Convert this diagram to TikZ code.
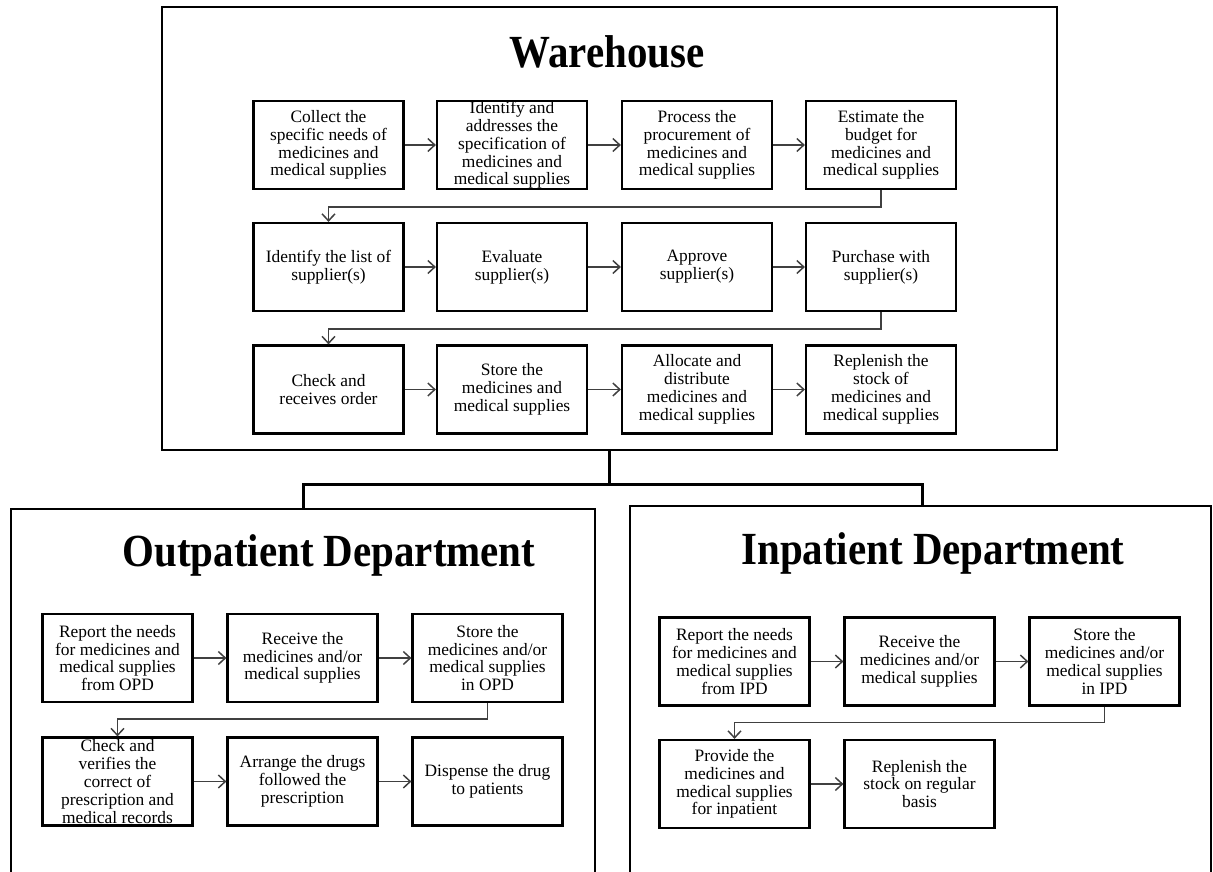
\documentclass[tikz,border=0pt]{standalone}
\usepackage{fontspec}
\setmainfont{Liberation Serif}
\newfontfamily\titlefont{Liberation Serif}[FakeStretch=0.89]
\usetikzlibrary{arrows.meta}
\begin{document}
\begin{tikzpicture}[x=1pt,y=-1pt,
  stepbox/.style={draw=black,line width=2.2pt,minimum width=150pt,minimum height=88pt,
    inner sep=0pt,align=center,font=\fontsize{17.4pt}{17.8pt}\selectfont},
  flow/.style={draw=black!75,line width=1.5pt,-{Straight Barb[length=7pt,width=13pt,line width=1.5pt]}},
  frame/.style={draw=black,line width=2pt},
  trunk/.style={draw=black,line width=3pt},
  heading/.style={anchor=base,inner sep=0pt,font=\titlefont\bfseries\fontsize{46pt}{46pt}\selectfont}]
\useasboundingbox (0,0) rectangle (1213,872);

% ---------------- Warehouse ----------------
\node[frame,minimum width=895pt,minimum height=443pt,inner sep=0pt] (wh) at (609.5,228.5) {};
\node[heading] (whtitle) at (607,68) {Warehouse};

\node[stepbox] (w1) at (328.5,145) {Collect the\\specific needs of\\medicines and\\medical supplies};
\node[stepbox] (w2) at (512,145) {Identify and\\addresses the\\specification of\\medicines and\\medical supplies};
\node[stepbox] (w3) at (697,145) {Process the\\procurement of\\medicines and\\medical supplies};
\node[stepbox] (w4) at (881,145) {Estimate the\\budget for\\medicines and\\medical supplies};

\node[stepbox] (w5) at (328.5,267) {Identify the list of\\supplier(s)};
\node[stepbox] (w6) at (512,267) {Evaluate\\supplier(s)};
\node[stepbox] (w7) at (697,267) {Approve\\supplier(s)};
\node[stepbox] (w8) at (881,267) {Purchase with\\supplier(s)};

\node[stepbox] (w9) at (328.5,389.5) {Check and\\receives order};
\node[stepbox] (w10) at (512,389.5) {Store the\\medicines and\\medical supplies};
\node[stepbox] (w11) at (697,389.5) {Allocate and\\distribute\\medicines and\\medical supplies};
\node[stepbox] (w12) at (881,389.5) {Replenish the\\stock of\\medicines and\\medical supplies};

\draw[flow] (w1) -- (w2);
\draw[flow] (w2) -- (w3);
\draw[flow] (w3) -- (w4);
\draw[flow] (w4.south) -- ++(0,17) -| (w5.north);
\draw[flow] (w5) -- (w6);
\draw[flow] (w6) -- (w7);
\draw[flow] (w7) -- (w8);
\draw[flow] (w8.south) -- ++(0,17) -| (w9.north);
\draw[flow] (w9) -- (w10);
\draw[flow] (w10) -- (w11);
\draw[flow] (w11) -- (w12);

% ---------------- Departments (open at the bottom) ----------------
\draw[frame] (11,880) |- (595,509) -- (595,880);
\draw[frame] (630,880) |- (1211,506) -- (1211,880);
\coordinate (opdtop) at (303,509);
\coordinate (ipdtop) at (922,506);

\draw[trunk] (wh.south) -- ++(0,33) coordinate (split);
\draw[trunk] (opdtop) |- (split) -| (ipdtop);

% ---------------- Outpatient Department ----------------
\node[heading] (opdtitle) at (329,566) {Outpatient Department};

\node[stepbox] (o1) at (117.5,658) {Report the needs\\for medicines and\\medical supplies\\from OPD};
\node[stepbox] (o2) at (302.5,658) {Receive the\\medicines and/or\\medical supplies};
\node[stepbox] (o3) at (487.5,658) {Store the\\medicines and/or\\medical supplies\\in OPD};
\node[stepbox] (o4) at (117.5,781.5) {Check and\\verifies the\\correct of\\prescription and\\medical records};
\node[stepbox] (o5) at (302.5,781.5) {Arrange the drugs\\followed the\\prescription};
\node[stepbox] (o6) at (487.5,781.5) {Dispense the drug\\to patients};

\draw[flow] (o1) -- (o2);
\draw[flow] (o2) -- (o3);
\draw[flow] (o3.south) -- ++(0,16) -| (o4.north);
\draw[flow] (o4) -- (o5);
\draw[flow] (o5) -- (o6);

% ---------------- Inpatient Department ----------------
\node[heading] (ipdtitle) at (933,564) {Inpatient Department};

\node[stepbox] (i1) at (734.5,661.5) {Report the needs\\for medicines and\\medical supplies\\from IPD};
\node[stepbox] (i2) at (919.5,661.5) {Receive the\\medicines and/or\\medical supplies};
\node[stepbox] (i3) at (1104.5,661.5) {Store the\\medicines and/or\\medical supplies\\in IPD};
\node[stepbox] (i4) at (734.5,784) {Provide the\\medicines and\\medical supplies\\for inpatient};
\node[stepbox] (i5) at (919.5,784) {Replenish the\\stock on regular\\basis};

\draw[flow] (i1) -- (i2);
\draw[flow] (i2) -- (i3);
\draw[flow] (i3.south) -- ++(0,16) -| (i4.north);
\draw[flow] (i4) -- (i5);
\end{tikzpicture}
\end{document}
